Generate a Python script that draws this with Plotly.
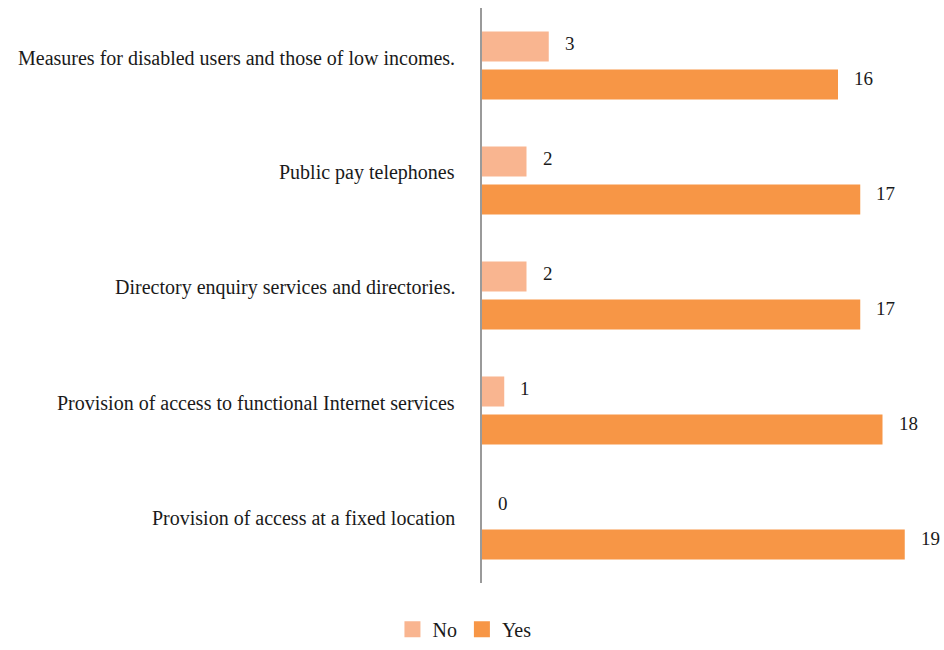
import plotly.graph_objects as go

categories = [
    "Measures for disabled users and those of low incomes.",
    "Public pay telephones",
    "Directory enquiry services and directories.",
    "Provision of access to functional Internet services",
    "Provision of access at a fixed location",
]
no_values = [3, 2, 2, 1, 0]
yes_values = [16, 17, 17, 18, 19]

NO_COLOR = "#F9B590"
YES_COLOR = "#F79646"
FONT = "Liberation Serif"
TEXT_COLOR = "#1a1a1a"

fig = go.Figure()
fig.add_trace(go.Bar(name="No", y=categories, x=no_values, orientation="h",
                     marker=dict(color=NO_COLOR, line=dict(width=0)), showlegend=False))
fig.add_trace(go.Bar(name="Yes", y=categories, x=yes_values, orientation="h",
                     marker=dict(color=YES_COLOR, line=dict(width=0)), showlegend=False))

# legend entries with larger square swatches
for name, color in [("No", NO_COLOR), ("Yes", YES_COLOR)]:
    fig.add_trace(go.Scatter(name=name, x=[None], y=[None], mode="markers",
                             marker=dict(symbol="square", size=18, color=color)))

# category labels, right-aligned against the axis
for cat in categories:
    fig.add_annotation(x=0, xref="x", y=cat, text=cat, showarrow=False,
                       xanchor="right", xshift=-25, yshift=8,
                       font=dict(family=FONT, size=20, color=TEXT_COLOR))

# value labels beside each bar
for cat, v in zip(categories, no_values):
    fig.add_annotation(x=v, y=cat, text=str(v), showarrow=False, xanchor="left",
                       xshift=14, yshift=22, font=dict(family=FONT, size=19, color=TEXT_COLOR))
for cat, v in zip(categories, yes_values):
    fig.add_annotation(x=v, y=cat, text=str(v), showarrow=False, xanchor="left",
                       xshift=14, yshift=-13, font=dict(family=FONT, size=19, color=TEXT_COLOR))

fig.update_layout(
    width=944, height=650,
    margin=dict(l=482, r=17, t=8, b=67),
    paper_bgcolor="white", plot_bgcolor="white",
    barmode="group", bargap=0.339, bargroupgap=0.21,
    font=dict(family=FONT, size=19, color=TEXT_COLOR),
    showlegend=True,
    legend=dict(orientation="h", xref="container", yref="container",
                x=0.492, y=0.062, xanchor="center", yanchor="top",
                font=dict(family=FONT, size=20), itemwidth=30,
                tracegroupgap=0),
    xaxis=dict(range=[0, 20], visible=False, showgrid=False, zeroline=False),
    yaxis=dict(autorange="reversed", showgrid=False, zeroline=False,
               showline=True, linecolor="#9a9a9a", linewidth=2,
               ticks="", showticklabels=False),
)

fig.write_html("out.html")
